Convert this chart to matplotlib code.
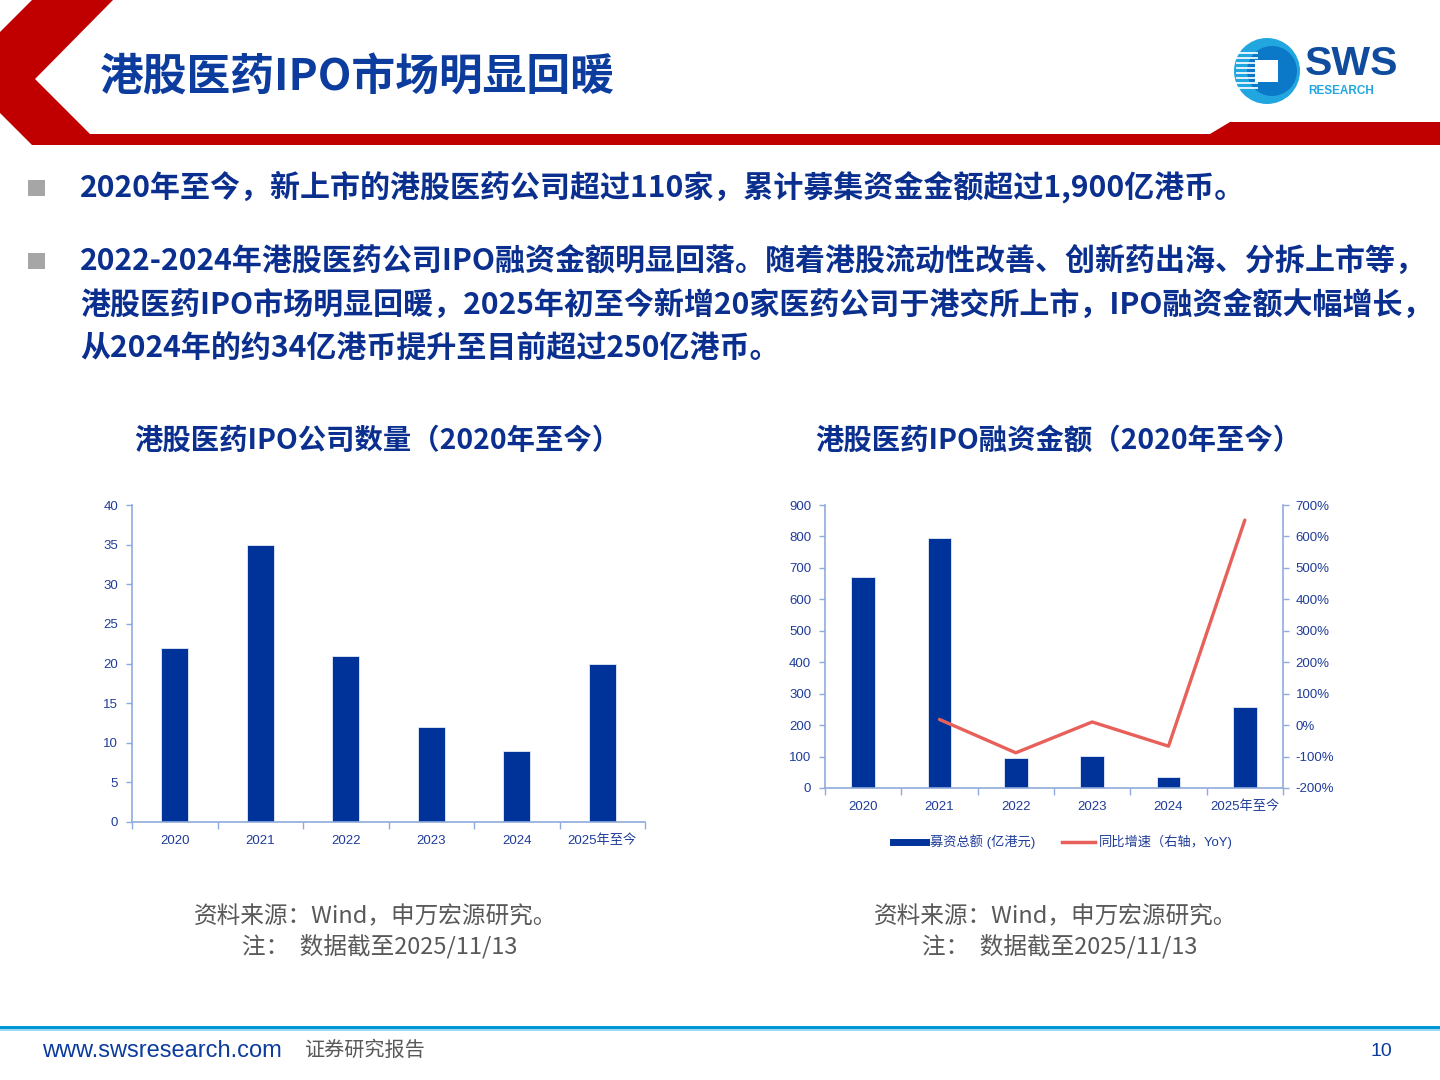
import matplotlib
matplotlib.use('Agg')
import matplotlib.pyplot as plt
from matplotlib.patches import Polygon, Rectangle, Circle
from matplotlib.lines import Line2D
import numpy as np

# ---------------- data ----------------
categories = ['2020', '2021', '2022', '2023', '2024', '2025年至今']
ipo_counts = [22, 35, 21, 12, 9, 20]                 # 港股医药IPO公司数量
ipo_amount = [671, 795, 94, 103, 34, 258]            # 募资总额 (亿港元)
yoy_growth = [np.nan, 18, -88, 10, -67, 652]         # 同比增速 (%)
count_ticks = [0, 5, 10, 15, 20, 25, 30, 35, 40]
amount_ticks = [0, 100, 200, 300, 400, 500, 600, 700, 800, 900]
yoy_ticks = [-200, -100, 0, 100, 200, 300, 400, 500, 600, 700]

title_text = '港股医药IPO市场明显回暖'
bullet_lines = [
    '2020年至今，新上市的港股医药公司超过110家，累计募集资金金额超过1,900亿港币。',
    '2022-2024年港股医药公司IPO融资金额明显回落。随着港股流动性改善、创新药出海、分拆上市等，',
    '港股医药IPO市场明显回暖，2025年初至今新增20家医药公司于港交所上市，IPO融资金额大幅增长，',
    '从2024年的约34亿港币提升至目前超过250亿港币。',
]
chart1_title = '港股医药IPO公司数量（2020年至今）'
chart2_title = '港股医药IPO融资金额（2020年至今）'
source_line = '资料来源：Wind，申万宏源研究。'
note_line = '注：  数据截至2025/11/13'
legend_labels = ['募资总额 (亿港元)', '同比增速（右轴，YoY)']

# ---------------- style ----------------
W, H = 1440, 1080
CJK = ['Noto Sans CJK SC', 'DejaVu Sans']
TICKF = ['Liberation Sans', 'Noto Sans CJK SC']
BAR = '#003399'
AXC = '#8FAADC'
TXT = '#1F3C99'
BODY = '#0A2F8F'
LINE = '#E8605A'

plt.rcParams['font.family'] = TICKF

fig = plt.figure(figsize=(14.4, 10.8), dpi=100)
bg = fig.add_axes([0, 0, 1, 1])
bg.set_xlim(0, W)
bg.set_ylim(H, 0)
bg.axis('off')

# header shape
red_pts = [(32, 0), (113, 0), (35, 79), (90, 134), (1210, 134), (1230, 122),
           (1440, 122), (1440, 145), (32, 145), (0, 113), (0, 32)]
bg.add_patch(Polygon(red_pts, closed=True, color='#C00000', lw=0))
bg.text(100, 78, title_text, fontsize=31.5, fontweight='bold', color='#0B3C9E',
        family=CJK, ha='left', va='center')

# logo
bg.add_patch(Circle((1267, 71), 33, color='#22A6E0', lw=0))
bg.add_patch(Circle((1272, 71), 25, color='#0C78C8', lw=0))
for yy in range(52, 92, 5):
    bg.add_patch(Rectangle((1236, yy), 22, 2, color='white', alpha=0.85, lw=0))
bg.add_patch(Rectangle((1255, 60), 23, 22, color='white', lw=0))
bg.text(1305, 64, 'SWS', fontsize=29.5, fontweight='bold', color='#0F4C9E',
        family=['Liberation Sans'], ha='left', va='center')
bg.text(1308, 91, 'RESEARCH', fontsize=8.5, fontweight='bold', color='#22A6E0',
        family=['Liberation Sans'], ha='left', va='center')

# bullets
bg.add_patch(Rectangle((28, 180), 17, 16, color='#A6A6A6', lw=0))
bg.add_patch(Rectangle((28, 253), 17, 16, color='#A6A6A6', lw=0))
for txt, yy in zip(bullet_lines, [187, 261, 305, 349]):
    bg.text(80, yy, txt, fontsize=21.6, fontweight='bold', color=BODY,
            family=CJK, ha='left', va='center')

# chart titles
bg.text(377, 441, chart1_title, fontsize=20.4, fontweight='bold', color=BODY,
        family=CJK, ha='center', va='center')
bg.text(1058, 441, chart2_title, fontsize=20.4, fontweight='bold', color=BODY,
        family=CJK, ha='center', va='center')

# sources
for cx, dx in [(376, 4), (1056, 4)]:
    bg.text(cx, 917, source_line, fontsize=17, color='#595959', family=CJK,
            ha='center', va='center')
    bg.text(cx + dx, 946, note_line, fontsize=17, color='#595959', family=CJK,
            ha='center', va='center')

# footer
bg.add_patch(Rectangle((0, 1025.5), W, 3.5, color='#0096D6', lw=0))
bg.add_patch(Rectangle((0, 1029), W, 2, color='#9ED8F2', lw=0))
bg.text(42, 1051, 'www.swsresearch.com', fontsize=17, color='#0B3C9E',
        family=['Liberation Sans Narrow', 'Liberation Sans'], ha='left', va='center')
bg.text(305, 1050, '证券研究报告', fontsize=14.5, color='#595959', family=CJK,
        ha='left', va='center')
bg.text(1381, 1051, '10', fontsize=14, color='#0B3C9E',
        family=['Liberation Sans Narrow', 'Liberation Sans'], ha='center', va='center')


def style_axis(ax):
    x = np.arange(len(categories))
    ax.set_xlim(-0.5, len(categories) - 0.5)
    ax.set_xticks(x)
    ax.set_xticklabels(categories)
    ax.set_xticks(np.arange(-0.5, len(categories)), minor=True)
    ax.tick_params(axis='x', which='major', length=0, pad=9, labelsize=9.5,
                   labelcolor=TXT)
    ax.tick_params(axis='x', which='minor', length=5, width=1, color=AXC,
                   direction='out')
    ax.tick_params(axis='y', which='major', length=4, width=1, color=AXC,
                   direction='out', labelsize=9.5, labelcolor=TXT, pad=6)
    for s in ['top', 'right']:
        ax.spines[s].set_visible(False)
    for s in ['left', 'bottom']:
        ax.spines[s].set_color(AXC)
        ax.spines[s].set_linewidth(1.2)
    ax.patch.set_alpha(0)


# left chart
ax1 = fig.add_axes([132 / W, 1 - 822 / H, (645 - 132) / W, (822 - 505) / H])
ax1.bar(np.arange(len(categories)), ipo_counts, width=0.31, color=BAR,
        edgecolor='#E6ECF7', linewidth=0.6, zorder=2)
ax1.set_ylim(0, 40)
ax1.set_yticks(count_ticks)
style_axis(ax1)

# right chart
ax2 = fig.add_axes([825 / W, 1 - 788 / H, (1283 - 825) / W, (788 - 505) / H])
ax2.bar(np.arange(len(categories)), ipo_amount, width=0.31, color=BAR,
        edgecolor='#E6ECF7', linewidth=0.6, zorder=2)
ax2.set_ylim(0, 900)
ax2.set_yticks(amount_ticks)
style_axis(ax2)

ax3 = ax2.twinx()
ax3.plot(np.arange(len(categories)), yoy_growth, color=LINE, lw=2.4,
         solid_capstyle='round', zorder=3)
ax3.set_ylim(-200, 700)
ax3.set_yticks(yoy_ticks)
ax3.set_yticklabels([f'{v}%' for v in yoy_ticks])
ax3.tick_params(axis='y', length=4, width=1, color=AXC, direction='out',
                labelsize=9.5, labelcolor=TXT, pad=5)
for s in ['top', 'left', 'bottom']:
    ax3.spines[s].set_visible(False)
ax3.spines['right'].set_color(AXC)
ax3.spines['right'].set_linewidth(1.2)

handles = [Line2D([0], [0], color=BAR, lw=5),
           Line2D([0], [0], color=LINE, lw=2.5)]
fig.legend(handles, legend_labels, loc='center', bbox_to_anchor=(1063 / W, 1 - 842 / H),
           ncol=2, frameon=False, fontsize=9.5, handlelength=2.5,
           handletextpad=0.3, columnspacing=2.0, labelcolor=TXT)

fig.savefig('out.png', dpi=100)
